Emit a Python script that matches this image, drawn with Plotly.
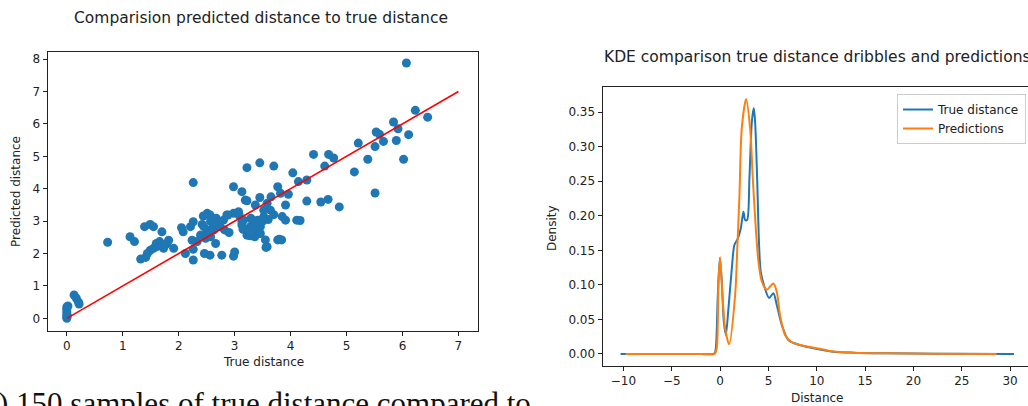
import plotly.graph_objects as go

W, H = 1028, 406

# ---------------- data ----------------
true_dist = [0.0, 0.0, 0.0, 0.0, 0.0, 0.0, 0.02, 0.01, 0.13, 0.17, 0.21, 0.22,
             0.73, 1.13, 1.21, 1.32, 1.41, 1.39, 1.49, 1.55, 1.44, 1.49, 1.55, 1.6, 1.66, 1.7, 1.73, 1.79, 1.82, 1.91, 2.05, 2.08, 2.12, 1.62, 1.75,
             2.26, 2.21, 2.26, 2.24, 2.26, 2.26, 2.33, 2.39, 2.42, 2.44, 2.51, 2.56, 2.46, 2.56, 2.51, 2.60, 2.66, 2.67, 2.71, 2.77, 2.82, 2.88, 2.98, 2.98, 3.0, 2.98, 2.45, 2.63, 2.74, 2.80, 2.57, 2.48, 2.57, 2.86, 2.54, 2.9,
             3.13, 3.19, 3.08, 3.13, 3.22, 3.23, 3.45, 3.70, 3.77, 3.45, 3.65, 3.82, 3.96, 3.22, 3.37, 3.58, 3.91, 3.64, 3.52, 3.07, 3.16, 3.29, 3.41, 3.52, 3.85, 3.91, 3.13, 3.28, 3.34, 3.46, 3.22, 3.36, 3.46, 3.28, 3.55, 3.58, 3.56, 3.77, 3.84, 3.80, 3.33, 3.40, 3.50, 3.30, 3.15, 3.6, 3.7,
             4.04, 4.14, 4.29, 4.41, 4.68, 4.77, 4.61, 4.11, 4.29, 4.54, 4.67, 4.87, 4.17,
             5.14, 5.21, 5.38, 5.51, 5.51, 5.53, 5.59, 5.66, 5.84, 5.92, 5.89, 6.11, 6.02, 6.07, 6.23, 6.45]
pred_dist = [0.0, 0.05, 0.12, 0.2, 0.28, 0.35, 0.38, 0.08, 0.72, 0.62, 0.5, 0.44,
             2.35, 2.52, 2.37, 1.83, 1.88, 2.83, 2.9, 2.83, 2.0, 2.1, 2.16, 2.31, 2.37, 2.67, 2.16, 2.31, 2.41, 2.16, 2.8, 2.67, 2.0, 2.22, 2.25,
             4.19, 2.83, 2.98, 2.41, 2.13, 1.80, 2.37, 2.57, 2.9, 3.16, 3.24, 3.19, 2.0, 1.95, 2.67, 2.78, 2.31, 3.09, 2.95, 1.95, 2.73, 3.19, 3.24, 4.06, 2.05, 1.92, 2.83, 2.73, 2.83, 3.03, 3.0, 2.47, 2.52, 3.19, 2.72, 2.65,
             3.91, 3.65, 3.19, 2.98, 4.65, 2.57, 4.80, 4.70, 4.06, 3.73, 3.75, 3.86, 3.83, 3.63, 3.50, 3.55, 3.50, 3.34, 3.34, 3.29, 3.03, 3.09, 3.03, 3.14, 3.14, 3.03, 2.88, 2.83, 2.73, 2.83, 2.57, 2.52, 2.62, 2.55, 2.42, 2.21, 2.19, 2.42, 2.42, 2.44, 2.95, 2.90, 3.0, 2.65, 2.75, 3.05, 3.2,
             4.49, 4.22, 4.27, 5.06, 5.06, 4.95, 4.70, 3.03, 3.62, 3.59, 3.67, 3.44, 3.02,
             4.52, 5.41, 4.91, 3.87, 5.30, 5.75, 5.68, 5.46, 6.06, 5.85, 5.49, 5.67, 4.91, 7.88, 6.42, 6.21]
ideal_x = [0, 7]
ideal_y = [0, 7]

kde_true_x = [-10.3, -2.0, -0.6, -0.45, -0.24, -0.03, 0.17, 0.38, 0.59, 0.86, 1.21, 1.48, 1.83, 2.14, 2.41, 2.59, 2.79, 3.03, 3.28, 3.48, 3.62, 3.83, 4.03, 4.2, 4.57, 5.07, 5.51, 5.86, 6.38, 7.06, 7.68, 8.6, 10.34, 11.7, 13.8, 17.2, 22.0, 30.4]
kde_true_y = [0.0, 0.0, 0.0005, 0.008, 0.085, 0.1386, 0.105, 0.047, 0.0275, 0.066, 0.124, 0.158, 0.167, 0.182, 0.206, 0.194, 0.194, 0.254, 0.336, 0.356, 0.336, 0.254, 0.158, 0.119, 0.098, 0.081, 0.088, 0.071, 0.042, 0.020, 0.0155, 0.0116, 0.0065, 0.0033, 0.0019, 0.001, 0.0003, 0.0]
kde_pred_x = [-9.8, -2.0, -0.55, -0.34, -0.17, 0.0, 0.24, 0.52, 0.93, 1.55, 1.79, 2.0, 2.24, 2.69, 3.10, 3.38, 3.69, 3.96, 4.31, 4.83, 5.51, 5.86, 6.2, 6.72, 7.41, 8.6, 10.34, 11.7, 13.8, 17.2, 22.0, 28.6]
kde_pred_y = [0.0, 0.0, 0.0005, 0.01, 0.105, 0.140, 0.085, 0.037, 0.014, 0.085, 0.158, 0.23, 0.327, 0.369, 0.327, 0.254, 0.182, 0.134, 0.105, 0.093, 0.102, 0.090, 0.056, 0.0275, 0.017, 0.012, 0.0075, 0.0035, 0.0019, 0.001, 0.0003, 0.0]

left_xticks = [0, 1, 2, 3, 4, 5, 6, 7]
left_yticks = [0, 1, 2, 3, 4, 5, 6, 7, 8]
right_xticks = [-10, -5, 0, 5, 10, 15, 20, 25, 30]
right_yticks = [0.0, 0.05, 0.10, 0.15, 0.20, 0.25, 0.30, 0.35]

# ---------------- figure ----------------
def px(x):
    return x / W

def py(y):
    return 1 - y / H

FONT = "DejaVu Sans"
blue = "#1f77b4"
orange = "#ff7f0e"

fig = go.Figure()
fig.add_trace(go.Scatter(x=true_dist, y=pred_dist, mode="markers",
                         marker=dict(color=blue, size=9, line=dict(width=0)),
                         xaxis="x", yaxis="y", showlegend=False))
fig.add_trace(go.Scatter(x=ideal_x, y=ideal_y, mode="lines",
                         line=dict(color="red", width=1.6),
                         xaxis="x", yaxis="y", showlegend=False))
fig.add_trace(go.Scatter(x=kde_true_x, y=kde_true_y, mode="lines", name="True distance",
                         line=dict(color=blue, width=2, shape="spline", smoothing=0.8),
                         xaxis="x2", yaxis="y2"))
fig.add_trace(go.Scatter(x=kde_pred_x, y=kde_pred_y, mode="lines", name="Predictions",
                         line=dict(color=orange, width=2, shape="spline", smoothing=0.8),
                         xaxis="x2", yaxis="y2"))

axis_common = dict(showgrid=False, zeroline=False, showline=True, mirror=True,
                   linecolor="#222", linewidth=1, ticks="outside", ticklen=4,
                   tickwidth=1, tickcolor="#222",
                   tickfont=dict(family=FONT, size=12, color="#222"))

fig.update_layout(
    width=W, height=H,
    margin=dict(l=0, r=0, t=0, b=0),
    paper_bgcolor="white", plot_bgcolor="white",
    xaxis=dict(domain=[px(47.5), px(478)], range=[-0.345, 7.35],
               tickvals=left_xticks, anchor="y", **axis_common),
    yaxis=dict(domain=[py(331), py(52)], range=[-0.39, 8.22],
               tickvals=left_yticks, anchor="x", **axis_common),
    xaxis2=dict(domain=[px(602.5), px(1027.5)], range=[-12.17, 31.8],
                tickvals=right_xticks, anchor="y2", **axis_common),
    yaxis2=dict(domain=[py(366), py(87.3)], range=[-0.0174, 0.386],
                tickvals=right_yticks, tickformat=".2f", anchor="x2", **axis_common),
    legend=dict(x=px(1026), y=py(94), xanchor="right", yanchor="top",
                bgcolor="white", bordercolor="#cccccc", borderwidth=1,
                font=dict(family=FONT, size=12, color="#222"),
                itemwidth=30, tracegroupgap=0),
    showlegend=True,
)

ann = []
def text(t, x, y, size=12, angle=0, family=FONT, color="#222", xanchor="center", yanchor="middle"):
    ann.append(dict(text=t, x=px(x), y=py(y), xref="paper", yref="paper",
                    showarrow=False, textangle=angle, xanchor=xanchor, yanchor=yanchor,
                    font=dict(family=family, size=size, color=color)))

text("Comparision predicted distance to true distance", 261, 18, size=15.5)
text("KDE comparison true distance dribbles and predictions", 817, 57, size=15.5)
text("True distance", 263, 362)
text("Predicted distance", 16, 192, angle=-90)
text("Density", 552, 228, angle=-90)
text("Distance", 817, 398)
text(") 150 samples of true distance compared to", -4, 384, size=31,
     family="Liberation Serif", color="#111", xanchor="left", yanchor="top")

fig.update_layout(annotations=ann)

fig.write_html("out.html", config={"displayModeBar": False},
               post_script="document.body.style.margin='0px';document.body.style.overflow='hidden';")
